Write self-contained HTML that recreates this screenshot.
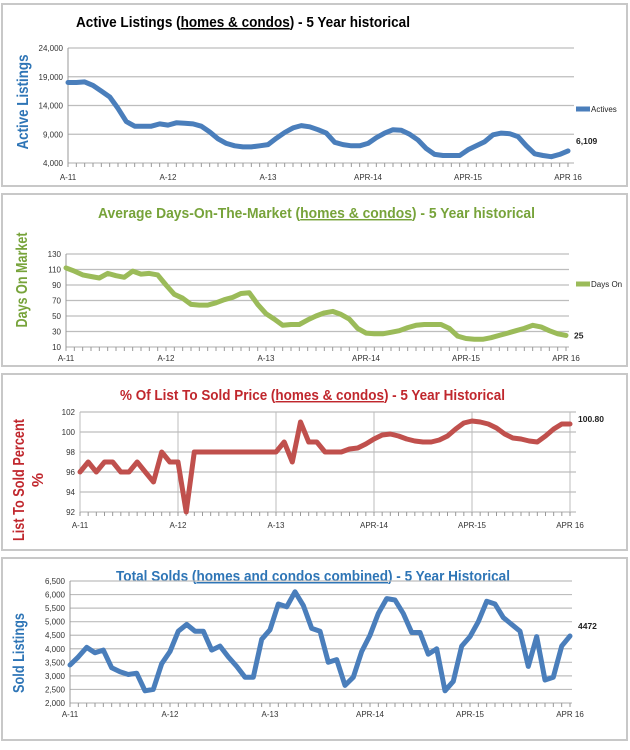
<!DOCTYPE html>
<html><head><meta charset="utf-8"><style>
body{margin:0;background:#fff;width:630px;height:745px;overflow:hidden;font-family:"Liberation Sans",sans-serif}
svg text{font-family:"Liberation Sans",sans-serif}
</style></head><body>
<svg id="s" width="630" height="745" xmlns="http://www.w3.org/2000/svg">
<rect x="2" y="4" width="625" height="182" fill="#fff" stroke="#c8c8c8" stroke-width="2"/>
<rect x="2" y="194" width="625" height="172" fill="#fff" stroke="#c8c8c8" stroke-width="2"/>
<rect x="2" y="374" width="625" height="176" fill="#fff" stroke="#c8c8c8" stroke-width="2"/>
<rect x="2" y="558" width="625" height="182" fill="#fff" stroke="#c8c8c8" stroke-width="2"/>

<text x="76" y="27" font-size="15" font-weight="bold" fill="#000" textLength="334" lengthAdjust="spacingAndGlyphs">Active Listings (<tspan text-decoration="underline">homes &amp; condos</tspan>) - 5 Year historical</text>
<text transform="translate(28,102) rotate(-90)" text-anchor="middle" font-size="16" font-weight="bold" fill="#2e75b6" textLength="95" lengthAdjust="spacingAndGlyphs">Active Listings</text>

<text x="98" y="218" font-size="14.5" font-weight="bold" fill="#77a33a" textLength="437" lengthAdjust="spacingAndGlyphs">Average Days-On-The-Market (<tspan text-decoration="underline">homes &amp; condos</tspan>) - 5 Year historical</text>
<text transform="translate(27,280) rotate(-90)" text-anchor="middle" font-size="16" font-weight="bold" fill="#77a33a" textLength="95" lengthAdjust="spacingAndGlyphs">Days On Market</text>

<text x="120" y="400" font-size="14.5" font-weight="bold" fill="#c0272d" textLength="385" lengthAdjust="spacingAndGlyphs">% Of List To Sold Price (<tspan text-decoration="underline">homes &amp; condos</tspan>) - 5 Year Historical</text>
<text transform="translate(24,480) rotate(-90)" text-anchor="middle" font-size="16" font-weight="bold" fill="#c0272d" textLength="122" lengthAdjust="spacingAndGlyphs">List To Sold Percent</text>
<text transform="translate(43,480) rotate(-90)" text-anchor="middle" font-size="16" font-weight="bold" fill="#c0272d">%</text>

<text x="116" y="581" font-size="14.5" font-weight="bold" fill="#2e75b6" textLength="394" lengthAdjust="spacingAndGlyphs">Total Solds (<tspan text-decoration="underline">homes and condos combined</tspan>) - 5 Year Historical</text>
<text transform="translate(24,653) rotate(-90)" text-anchor="middle" font-size="16" font-weight="bold" fill="#2e75b6" textLength="80" lengthAdjust="spacingAndGlyphs">Sold Listings</text>
<g id="g"></g>
</svg>
<script>
var g=document.getElementById('g'),h='';
function chart(o){
 var n=o.ticks.length;
 for(var i=0;i<n;i++){var y=o.yTop+(o.yBot-o.yTop)*i/(n-1);
  h+='<line x1="'+o.x0+'" x2="'+o.gx1+'" y1="'+y+'" y2="'+y+'" stroke="#bdbdbd" stroke-width="1.2"/>';
  h+='<text x="'+(o.x0-5)+'" y="'+(y+3)+'" text-anchor="end" font-size="8" fill="#333">'+o.ticks[i]+'</text>';}
 h+='<line x1="'+o.x0+'" x2="'+o.x0+'" y1="'+o.yTop+'" y2="'+o.yBot+'" stroke="#999"/>';
 var labs=['A-11','A-12','A-13','APR-14','APR-15','APR 16'];
 for(var m=0;m<=60;m++){var x=o.x0+(o.x1-o.x0)*m/60;h+='<line x1="'+x+'" x2="'+x+'" y1="'+o.yBot+'" y2="'+(o.yBot+4)+'" stroke="#999"/>';
  if(m%12==0){h+='<text x="'+x+'" y="'+o.ly+'" text-anchor="middle" font-size="8" fill="#333">'+labs[m/12]+'</text>';
   if(o.vg)h+='<line x1="'+x+'" x2="'+x+'" y1="'+o.yTop+'" y2="'+o.yBot+'" stroke="#bdbdbd"/>';}}
 var p=o.d.map(function(v,m){return (o.x0+(o.x1-o.x0)*m/60).toFixed(1)+','+(o.yBot-(v-o.min)/(o.max-o.min)*(o.yBot-o.yTop)).toFixed(1)}).join(' ');
 h+='<polyline points="'+p+'" fill="none" stroke="'+o.c+'" stroke-width="5" stroke-linejoin="round" stroke-linecap="round"/>';
 var ly=o.yBot-(o.d[60]-o.min)/(o.max-o.min)*(o.yBot-o.yTop);
 h+='<text x="'+(o.x1+8)+'" y="'+(ly+o.vo)+'" font-size="8.5" font-weight="bold" fill="#222">'+o.last+'</text>';
 if(o.leg){h+='<line x1="576" x2="590" y1="'+o.leg[0]+'" y2="'+o.leg[0]+'" stroke="'+o.c+'" stroke-width="5"/><text x="591" y="'+(o.leg[0]+3)+'" font-size="8" fill="#222">'+o.leg[1]+'</text>';}
}
chart({x0:68,x1:568,gx1:574,yTop:48,yBot:163,ly:180,min:4,max:24,ticks:['24,000','19,000','14,000','9,000','4,000'],c:'#4a7ebb',last:'6,109',vo:-7,leg:[109,'Actives'],
 d:[18,18,18.1,17.5,16.5,15.5,13.5,11.2,10.4,10.4,10.4,10.8,10.6,11,10.9,10.8,10.4,9.4,8.2,7.4,7,6.8,6.8,7,7.2,8.3,9.3,10.1,10.5,10.3,9.8,9.2,7.6,7.2,7,7,7.4,8.4,9.2,9.8,9.7,9,8,6.5,5.5,5.3,5.3,5.3,6.3,7,7.7,8.9,9.2,9.1,8.6,7,5.6,5.3,5.1,5.5,6.1]});
chart({x0:66,x1:566,gx1:569,yTop:254,yBot:347,ly:361,min:10,max:130,ticks:['130','110','90','70','50','30','10'],c:'#9bbb59',last:'25',vo:3,leg:[284,'Days On'],
 d:[112,108,103,101,99,105,102,100,108,104,105,103,90,78,73,65,64,64,67,71,74,79,80,65,53,46,38,39,39,45,50,54,56,52,46,34,28,27,27,29,31,35,38,39,39,39,34,24,21,20,20,22,25,28,31,34,38,36,31,27,25]});
chart({x0:80,x1:570,gx1:576,yTop:412,yBot:512,ly:528,min:92,max:102,ticks:['102','100','98','96','94','92'],c:'#c0504d',last:'100.80',vo:-2,vg:1,
 d:[96,97,96,97,97,96,96,97,96,95,98,97,97,92,98,98,98,98,98,98,98,98,98,98,98,99,97,101,99,99,98,98,98,98.3,98.4,98.8,99.3,99.7,99.8,99.6,99.3,99.1,99,99,99.2,99.6,100.3,100.9,101.1,101,100.8,100.4,99.8,99.4,99.3,99.1,99,99.6,100.3,100.8,100.8]});
chart({x0:70,x1:570,gx1:572,yTop:581,yBot:703,ly:717,min:2000,max:6500,ticks:['6,500','6,000','5,500','5,000','4,500','4,000','3,500','3,000','2,500','2,000'],c:'#4a7ebb',last:'4472',vo:-7,
 d:[3400,3700,4050,3850,3950,3300,3150,3050,3100,2450,2500,3450,3900,4650,4900,4650,4650,3950,4100,3700,3350,2950,2950,4350,4700,5650,5550,6100,5600,4750,4650,3500,3600,2650,2950,3900,4500,5300,5850,5800,5300,4600,4600,3800,4000,2450,2800,4100,4450,5000,5750,5650,5150,4900,4650,3350,4450,2850,2950,4100,4472]});
g.innerHTML=h;
</script>
</body></html>
